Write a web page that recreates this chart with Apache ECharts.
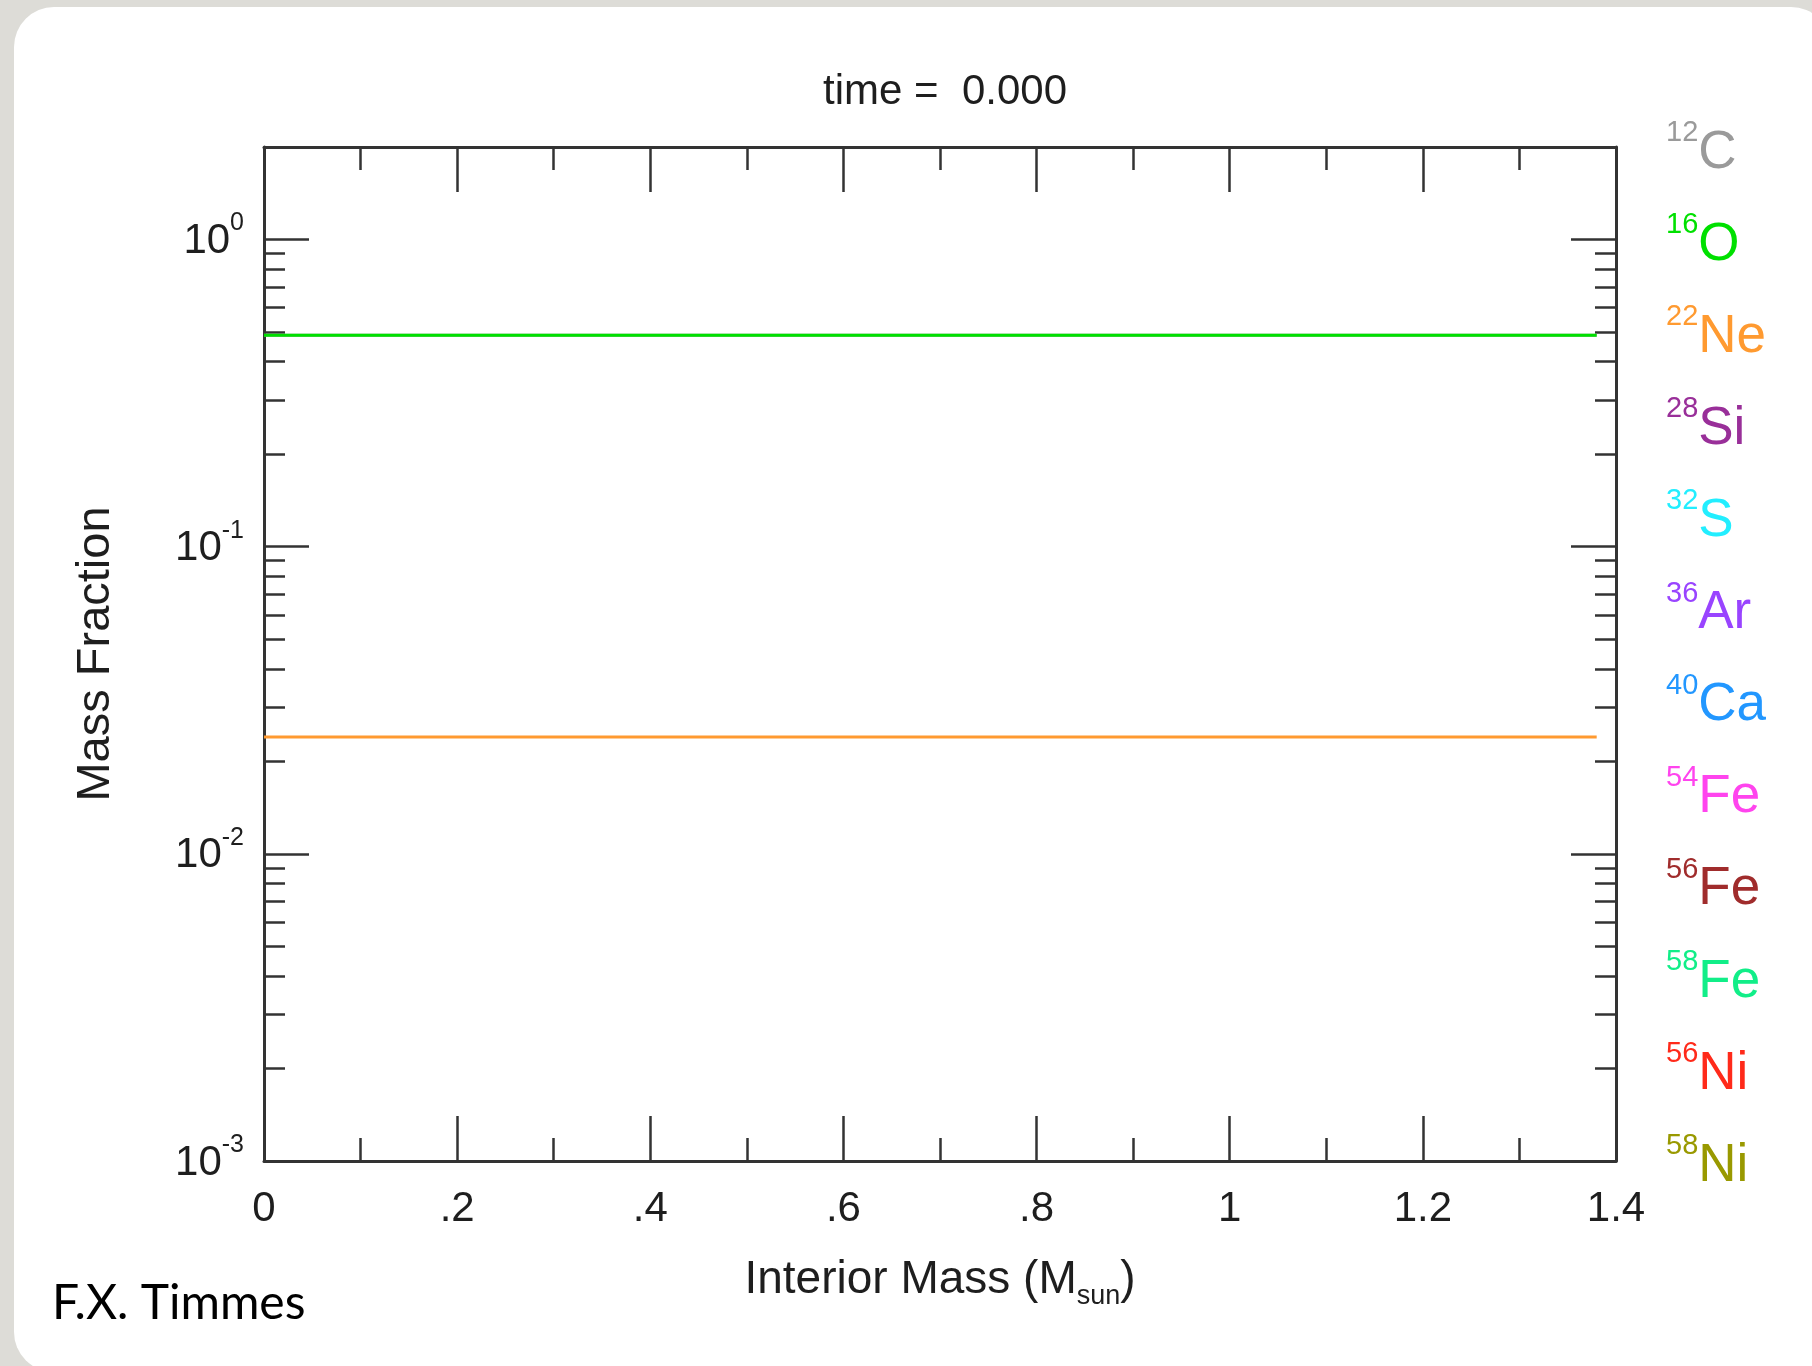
<!DOCTYPE html>
<html>
<head>
<meta charset="utf-8">
<title>time = 0.000</title>
<script src="https://cdn.jsdelivr.net/npm/echarts@6/dist/echarts.min.js"></script>
<style>
html, body { margin: 0; padding: 0; background: #dddcd7; }
#chart { width: 1812px; height: 1366px; }
</style>
</head>
<body>
<div id="chart"></div>
<script>
// interior mass grid (M_sun)
const mass = [0, 1.38];
// mass fractions at time = 0
const x12C = [0.488, 0.488];
const x16O = [0.488, 0.488];
const x22Ne = [0.024, 0.024];

// isotopes in the side list (top to bottom)
const isoMassNumbers = ['12', '16', '22', '28', '32', '36', '40', '54', '56', '58', '56', '58'];
const isoElements = ['C', 'O', 'Ne', 'Si', 'S', 'Ar', 'Ca', 'Fe', 'Fe', 'Fe', 'Ni', 'Ni'];
const isoValues = [x12C, x16O, x22Ne, [], [], [], [], [], [], [], [], []];
const isoColors = ['#9a9a9a', '#00e000', '#ff9a30', '#992f99', '#22eeff', '#9944ff',
    '#2297ff', '#ff44ee', '#a02c2c', '#11ee88', '#ff2a1a', '#999900'];

// tick labels
const xTickLabels = ['0', '.2', '.4', '.6', '.8', '1', '1.2', '1.4'];
const yMajorTicks = [0.001, 0.01, 0.1, 1];
const yTickExponents = ['-3', '-2', '-1', '0'];
const yMinorTicks = [0.002, 0.003, 0.004, 0.005, 0.006, 0.007, 0.008, 0.009,
    0.02, 0.03, 0.04, 0.05, 0.06, 0.07, 0.08, 0.09,
    0.2, 0.3, 0.4, 0.5, 0.6, 0.7, 0.8, 0.9];

const axisColor = '#333';
const textColor = '#1e1e1e';

const isoNames = isoElements.map((el, i) => isoMassNumbers[i] + el);

const legendRich = {};
isoColors.forEach((c, i) => {
    legendRich['s' + i] = { fontSize: 29, color: c, lineHeight: 72, padding: [0, 0, 40, 0] };
    legendRich['e' + i] = { fontSize: 53, color: c, lineHeight: 72 };
});

const xAxisBase = {
    type: 'value',
    min: 0,
    max: 1.4,
    interval: 0.2,
    axisLine: { show: true, onZero: false, lineStyle: { color: axisColor, width: 3 } },
    axisTick: { show: true, inside: true, length: 45, lineStyle: { color: axisColor, width: 2.5 } },
    minorTick: { show: true, splitNumber: 2, length: 23, lineStyle: { color: axisColor, width: 2.5 } },
    splitLine: { show: false },
    minorSplitLine: { show: false }
};

const yAxisBase = {
    type: 'log',
    logBase: 10,
    min: 0.001,
    max: 2,
    splitLine: { show: false },
    minorSplitLine: { show: false }
};

const chart = echarts.init(document.getElementById('chart'));

const option = {
    animation: false,
    backgroundColor: '#dddcd7',
    textStyle: { fontFamily: 'Liberation Sans, Arial, sans-serif' },
    grid: { left: 264, right: 196, top: 147, bottom: 205 },
    graphic: [
        {
            type: 'rect', z: -100, silent: true,
            shape: { x: 14, y: 7, width: 1817, height: 1365, r: 40 },
            style: { fill: '#ffffff' }
        },
        {
            type: 'text', silent: true,
            style: {
                x: 945, y: 92, text: 'time =  0.000', align: 'center', verticalAlign: 'middle',
                fontSize: 42, fontFamily: 'Liberation Sans', fill: textColor
            }
        },
        {
            type: 'text', silent: true,
            style: {
                x: 52, y: 1304, text: 'F.X. Timmes', verticalAlign: 'middle',
                fontSize: 48, fontFamily: 'Lato', fill: '#000'
            }
        }
    ],
    legend: {
        orient: 'vertical',
        left: 1661,
        top: 117,
        icon: 'none',
        itemWidth: 0,
        itemHeight: 72,
        itemGap: 21.6,
        padding: 0,
        selectedMode: false,
        data: isoNames,
        formatter: (name) => {
            const i = isoNames.indexOf(name);
            return '{s' + i + '|' + isoMassNumbers[i] + '}{e' + i + '|' + isoElements[i] + '}';
        },
        textStyle: { fontFamily: 'Liberation Sans', rich: legendRich }
    },
    xAxis: [
        Object.assign({}, xAxisBase, {
            position: 'bottom',
            axisLabel: {
                margin: 27, fontSize: 42, color: textColor,
                showMinLabel: true, showMaxLabel: true,
                formatter: (v) => xTickLabels[Math.round(v / 0.2)]
            },
            name: '{n|Interior Mass (M}{sub|sun}{n|)}',
            nameLocation: 'middle',
            nameGap: 94,
            nameTextStyle: {
                rich: {
                    n: { fontSize: 46, color: textColor, lineHeight: 50 },
                    sub: { fontSize: 27, color: textColor, lineHeight: 50, padding: [34, 0, 0, 0] }
                }
            }
        }),
        Object.assign({}, xAxisBase, {
            position: 'top',
            axisLabel: { show: false }
        })
    ],
    yAxis: [
        Object.assign({}, yAxisBase, {
            position: 'left',
            axisLine: { show: true, onZero: false, lineStyle: { color: axisColor, width: 3 } },
            axisTick: { show: true, inside: true, length: 45, customValues: yMajorTicks,
                lineStyle: { color: axisColor, width: 2.5 } },
            axisLabel: {
                margin: 20,
                customValues: yMajorTicks,
                formatter: (v) => {
                    const i = yMajorTicks.findIndex((t) => Math.abs(t - v) / t < 1e-6);
                    return '{b|10}{s|' + (i >= 0 ? yTickExponents[i] : '') + '}';
                },
                rich: {
                    b: { fontSize: 42, color: textColor, lineHeight: 50, padding: [4, 0, 0, 0] },
                    s: { fontSize: 25, color: textColor, lineHeight: 50, padding: [0, 0, 32, 0] }
                }
            },
            name: 'Mass Fraction',
            nameLocation: 'middle',
            nameRotate: 90,
            nameGap: 144,
            nameTextStyle: { fontSize: 47, color: textColor }
        }),
        Object.assign({}, yAxisBase, {
            position: 'right',
            axisLine: { show: true, onZero: false, lineStyle: { color: axisColor, width: 3 } },
            axisTick: { show: true, inside: true, length: 45, customValues: yMajorTicks,
                lineStyle: { color: axisColor, width: 2.5 } },
            axisLabel: { show: false }
        }),
        Object.assign({}, yAxisBase, {
            position: 'left',
            axisLine: { show: false, onZero: false },
            axisTick: { show: true, inside: true, length: 21, customValues: yMinorTicks,
                lineStyle: { color: axisColor, width: 2.5 } },
            axisLabel: { show: false }
        }),
        Object.assign({}, yAxisBase, {
            position: 'right',
            axisLine: { show: false, onZero: false },
            axisTick: { show: true, inside: true, length: 21, customValues: yMinorTicks,
                lineStyle: { color: axisColor, width: 2.5 } },
            axisLabel: { show: false }
        })
    ],
    series: isoNames.map((name, i) => ({
        name: name,
        type: 'line',
        xAxisIndex: 0,
        yAxisIndex: 0,
        showSymbol: false,
        symbol: 'none',
        color: isoColors[i],
        lineStyle: { width: 3, color: isoColors[i] },
        data: isoValues[i].map((y, k) => [mass[k], y])
    }))
};

chart.setOption(option);
</script>
</body>
</html>
